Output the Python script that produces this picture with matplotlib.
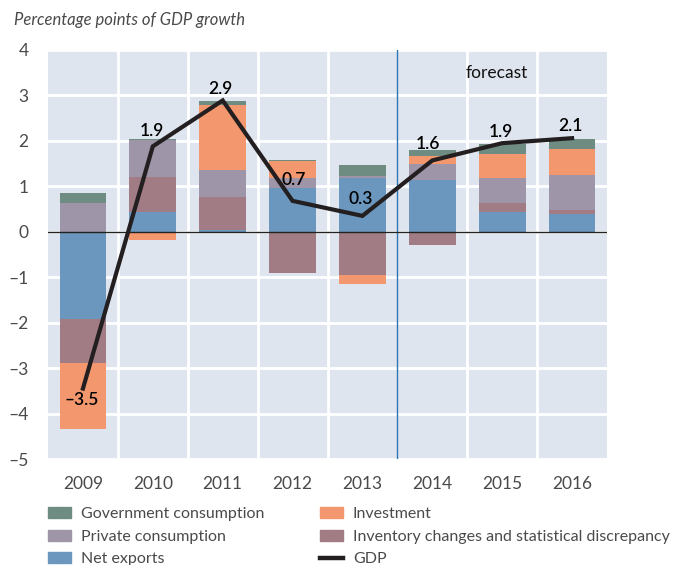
import matplotlib
matplotlib.use("Agg")
import matplotlib.pyplot as plt
import numpy as np
from matplotlib.patches import Patch
from matplotlib.lines import Line2D

plt.rcParams['font.family'] = ['Lato', 'DejaVu Sans']

years = ["2009", "2010", "2011", "2012", "2013", "2014", "2015", "2016"]
net_exports = [-1.91, 0.44, 0.04, 0.96, 1.18, 1.15, 0.43, 0.40]
inventory = [-0.97, 0.76, 0.72, -0.90, -0.95, -0.28, 0.21, 0.09]
private = [0.64, 0.82, 0.59, 0.22, 0.04, 0.35, 0.55, 0.75]
investment = [-1.46, -0.18, 1.43, 0.37, -0.19, 0.16, 0.53, 0.59]
government = [0.22, 0.02, 0.09, 0.02, 0.26, 0.15, 0.22, 0.22]
gdp = [-3.45, 1.88, 2.89, 0.68, 0.35, 1.57, 1.95, 2.06]
gdp_labels = ["\u20133.5", "1.9", "2.9", "0.7", "0.3", "1.6", "1.9", "2.1"]
yticks = [4, 3, 2, 1, 0, -1, -2, -3, -4, -5]

# label offsets in points (dx, dy)
label_offsets = [(-1, -8), (-1, 11), (-2, 8), (1, 15), (-1, 12), (-3, 12), (-1, 8), (-1, 9)]

series = [
    ("Net exports", net_exports, "#6B96BD"),
    ("Inventory changes and statistical discrepancy", inventory, "#A17C85"),
    ("Private consumption", private, "#9E95A8"),
    ("Investment", investment, "#F3986E"),
    ("Government consumption", government, "#6F8C82"),
]
colors = {name: c for name, _, c in series}

fig = plt.figure(figsize=(6.8, 5.65), dpi=100)
ax = fig.add_axes([48/680, 1-459/565, (607-48)/680, (459-50)/565])
ax.set_facecolor("#DFE5EE")

x = np.arange(len(years))
pos_base = np.zeros(len(years))
neg_base = np.zeros(len(years))
for name, vals, c in series:
    v = np.array(vals)
    bottoms = np.where(v >= 0, pos_base, neg_base)
    ax.bar(x, v, width=0.67, bottom=bottoms, color=c, zorder=2, linewidth=0)
    pos_base = pos_base + np.where(v >= 0, v, 0)
    neg_base = neg_base + np.where(v < 0, v, 0)

ax.plot(x, gdp, color="#231F20", lw=3.0, zorder=4, solid_joinstyle='miter')
for xi, g, lab, off in zip(x, gdp, gdp_labels, label_offsets):
    ax.annotate(lab, (xi, g), xytext=off, textcoords="offset points",
                ha="center", va="center", fontsize=12.5, fontweight="semibold",
                color="#000000", zorder=5)

ax.set_xlim(-0.5, len(years) - 0.5)
ax.set_ylim(-5, 4)
ax.set_yticks(yticks)
ax.set_yticklabels([str(t).replace("-", "\u2013") for t in yticks])
ax.set_xticks(x)
ax.set_xticklabels(years)
ax.tick_params(axis="both", length=0, labelsize=12.5, labelcolor="#4a4a4a")
ax.tick_params(axis="y", pad=14)
ax.tick_params(axis="x", pad=12)

for yv in yticks:
    ax.axhline(yv, color="white", lw=2, zorder=1)
for b in np.arange(0.5, len(years) - 0.5, 1.0):
    if b == 4.5:
        ax.axvline(b, color="#2E75B6", lw=1, zorder=3)
    else:
        ax.axvline(b, color="white", lw=2, zorder=1)
ax.axhline(0, color="#222222", lw=1, zorder=3)
for s in ax.spines.values():
    s.set_visible(False)

ax.text(5.92, 3.5, "forecast", ha="center", va="center", fontsize=12.5, color="#111111")

fig.text(14/680, 1-20/565, "Percentage points of GDP growth", fontsize=12,
         style="italic", color="#4a4a4a", ha="left", va="center")

h1 = [Patch(color=colors["Government consumption"], label="Government consumption"),
      Patch(color=colors["Private consumption"], label="Private consumption"),
      Patch(color=colors["Net exports"], label="Net exports")]
h2 = [Patch(color=colors["Investment"], label="Investment"),
      Patch(color=colors["Inventory changes and statistical discrepancy"],
            label="Inventory changes and statistical discrepancy"),
      Line2D([0], [0], color="#231F20", lw=3.2, label="GDP")]
common = dict(loc="upper left", frameon=False, fontsize=11.5, borderpad=0,
              borderaxespad=0, handlelength=1.44, handleheight=0.69,
              handletextpad=0.62, labelspacing=0.53, labelcolor="#4a4a4a")
leg1 = fig.legend(handles=h1, bbox_to_anchor=(48/680, 1-507/565), **common)
leg2 = fig.legend(handles=h2, bbox_to_anchor=(320/680, 1-507/565), **common)

fig.savefig("out.png", dpi=100)
